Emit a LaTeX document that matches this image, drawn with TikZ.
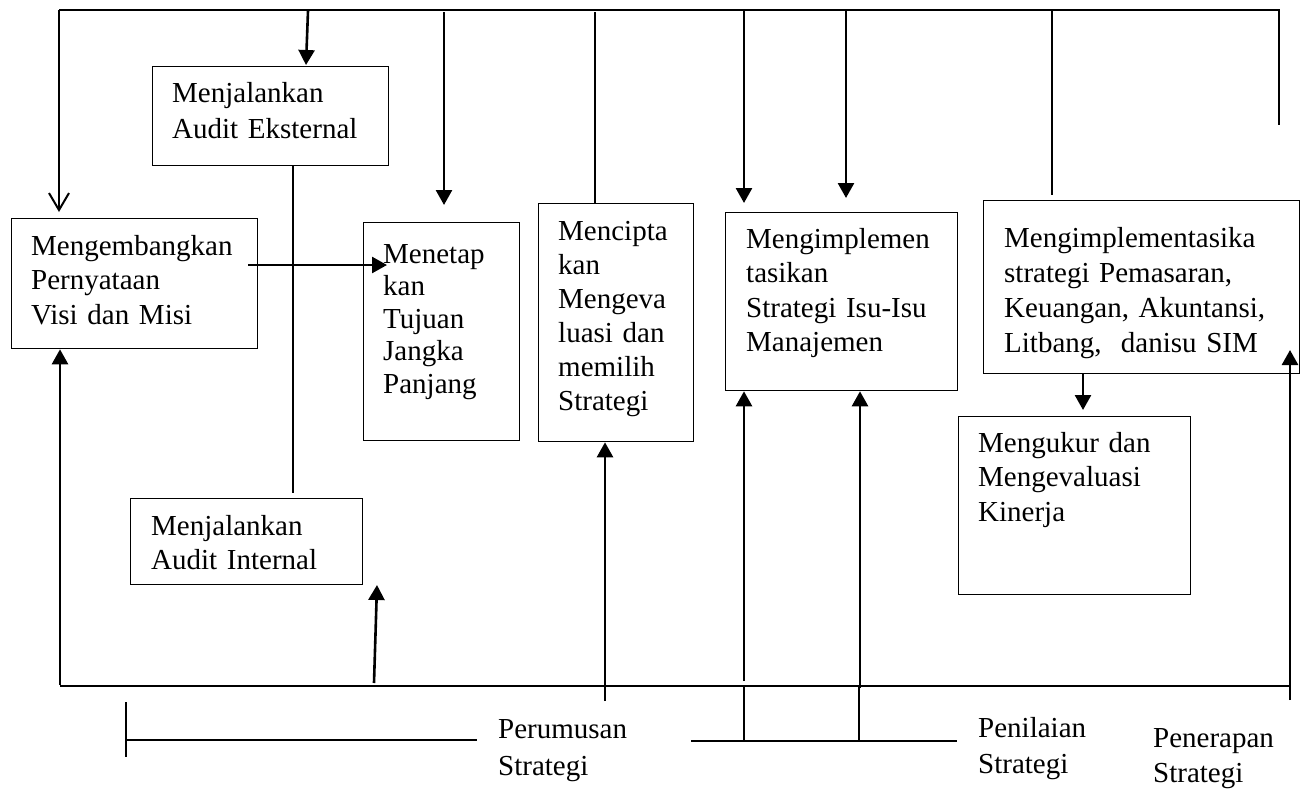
\documentclass[tikz,border=0pt]{standalone}
\usepackage{fontspec}
\setmainfont{Liberation Serif}
\usetikzlibrary{arrows.meta}
\begin{document}
\begin{tikzpicture}[x=1pt,y=-1pt,
  box/.style={draw,line width=1.3pt,inner sep=0pt,anchor=north west},
  txt/.style={inner sep=0pt,anchor=base west,text width=330pt,align=left,
    font=\fontsize{29}{34.5}\selectfont},
  thin/.style={line width=1.2pt},
  topl/.style={line width=1.6pt},
  arr/.style={line width=2.6pt,-{Triangle[length=15pt,width=16pt]}},
  barb/.style={line width=2.2pt,-{Straight Barb[length=17pt,width=20pt,line width=2pt]}},
  thick/.style={line width=2.6pt}]
\useasboundingbox (0,0) rectangle (1304,788);
% boxes
\node[box,minimum width=246pt,minimum height=130pt] (misi) at (11,218) {};
\node[box,minimum width=236pt,minimum height=99pt] (ext) at (152,66) {};
\node[box,minimum width=232pt,minimum height=86pt] (int) at (130,498) {};
\node[box,minimum width=156pt,minimum height=218pt] (tuj) at (363,222) {};
\node[box,minimum width=155pt,minimum height=238pt] (strat) at (538,203) {};
\node[box,minimum width=232pt,minimum height=178pt] (isu) at (725,212) {};
\node[box,minimum width=316pt,minimum height=173pt] (fung) at (983,200) {};
\node[box,minimum width=232pt,minimum height=178pt] (kin) at (958,416) {};
% texts
\node[txt] (misiT) at (31,255) {Mengembangkan\\Pernyataan\\Visi dan Misi};
\node[txt,font=\fontsize{29}{36}\selectfont] (extT) at (172,102) {Menjalankan\\Audit Eksternal};
\node[txt] (intT) at (151,535) {Menjalankan\\Audit Internal};
\node[txt,font=\fontsize{29}{32.5}\selectfont] (tujT) at (383,263) {Menetap\\kan\\Tujuan\\Jangka\\Panjang};
\node[txt,font=\fontsize{29}{34}\selectfont] (stratT) at (558,240) {Mencipta\\kan\\Mengeva\\luasi dan\\memilih\\Strategi};
\node[txt] (isuT) at (746,248) {Mengimplemen\\tasikan\\Strategi Isu-Isu\\Manajemen};
\node[txt,font=\fontsize{29}{35.3}\selectfont] (fungT) at (1004,247) {Mengimplementasika\\strategi Pemasaran,\\Keuangan, Akuntansi,\\Litbang,\ \ danisu SIM};
\node[txt] (kinT) at (978,452) {Mengukur dan\\Mengevaluasi\\Kinerja};
\node[txt,font=\fontsize{29}{37}\selectfont] (perT) at (498,738) {Perumusan\\Strategi};
\node[txt,font=\fontsize{29}{36}\selectfont] (penT) at (978,737) {Penilaian\\Strategi};
\node[txt,font=\fontsize{29}{35}\selectfont] (terT) at (1153,747) {Penerapan\\Strategi};
% coordinates
\coordinate (tl) at (59,10);
\coordinate (tr) at (1279,10);
\coordinate (trb) at (1279,125);
\coordinate (bl) at (60,686);
\coordinate (br) at (1290,686);
% top frame
\draw[topl] (tl) -- (tr) -- (trb);
\draw[barb] (tl) -- (59,212);
\draw[arr] (308,11) -- (306,65);
\draw[arr] (444,12) -- (444,205);
\draw[thick] (595,12) -- (strat.north -| 595,0);
\draw[arr] (744,11) -- (744,203);
\draw[arr] (846,11) -- (846,198);
\draw[thin] (1052,10) -- (1052,195);
% external-internal link
\draw[thin] (ext.south -| 293,0) -- (293,493);
% horizontal arrow
\draw[arr] (248,265) -- (387,265);
% bottom line
\draw[topl] (bl) -- (br);
\draw[arr] (60,685) -- (misi.south -| 60,0);
\draw[arr] (374,683) -- (377,585);
\draw[arr] (605,701) -- (strat.south -| 605,0);
\draw[arr] (744,681) -- (isu.south -| 744,0);
\draw[arr] (860,688) -- (isu.south -| 860,0);
\draw[arr] (fung.south -| 1083,0) -- (1083,410);
\draw[arr] (1290,700) -- (1290,350);
% lower brackets
\draw[thin] (744,686) -- (744,741);
\draw[thin] (859,686) -- (859,741);
\draw[thin] (691,741) -- (957,741);
\draw[thin] (126,702) -- (126,757);
\draw[thin] (126,740) -- (477,740);
\end{tikzpicture}
\end{document}
